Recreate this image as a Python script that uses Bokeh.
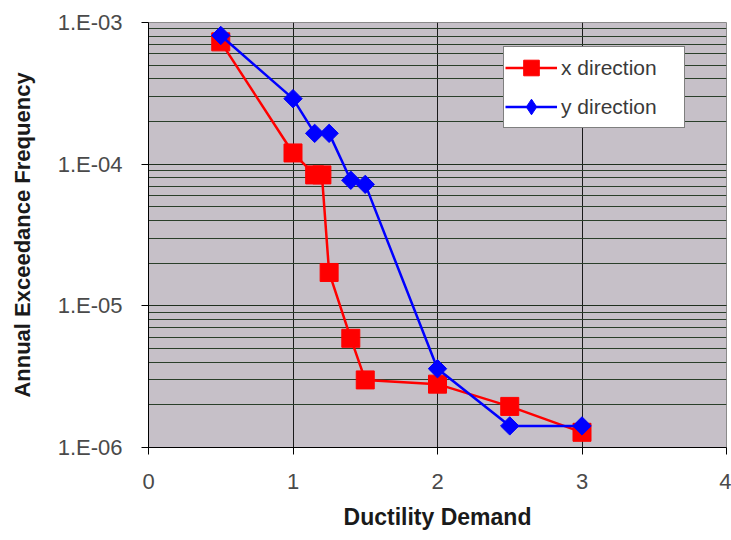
import math
from bokeh.plotting import figure
from bokeh.embed import file_html
from bokeh.resources import INLINE
from bokeh.models import FixedTicker, LogTicker, CustomJSTickFormatter, Legend

# Data
x_dir_x = [0.5, 1.0, 1.15, 1.2, 1.25, 1.4, 1.5, 2.0, 2.5, 3.0]
x_dir_y = [7.3e-4, 1.2e-4, 8.4e-5, 8.4e-5, 1.72e-5, 5.9e-6, 3.0e-6, 2.8e-6, 1.95e-6, 1.28e-6]
y_dir_x = [0.5, 1.0, 1.15, 1.25, 1.4, 1.5, 2.0, 2.5, 3.0]
y_dir_y = [8.1e-4, 2.9e-4, 1.65e-4, 1.65e-4, 7.7e-5, 7.2e-5, 3.6e-6, 1.42e-6, 1.42e-6]
x_ticks = [0, 1, 2, 3, 4]
y_ticks = [1e-6, 1e-5, 1e-4, 1e-3]

p = figure(width=731, height=540, output_backend="svg", toolbar_location=None,
           x_range=(0, 4), y_range=(1e-6, 1e-3), y_axis_type="log",
           min_border_left=148, min_border_right=5, min_border_top=22, min_border_bottom=93)

p.background_fill_color = "#c6c0c8"
p.border_fill_color = "white"
p.outline_line_color = "#8a8a8a"
p.outline_line_width = 1

p.xaxis.ticker = FixedTicker(ticks=x_ticks)
p.yaxis.ticker = LogTicker(desired_num_ticks=4, num_minor_ticks=10)
p.yaxis.formatter = CustomJSTickFormatter(code="""
var e = Math.round(Math.log10(tick));
var s = Math.abs(e); s = (s < 10 ? '0' : '') + s;
return '1.E' + (e < 0 ? '-' : '+') + s;
""")

for ax in (p.xaxis[0], p.yaxis[0]):
    ax.axis_line_color = "black"
    ax.axis_line_width = 1
    ax.major_tick_line_color = "black"
    ax.major_tick_out = 7
    ax.major_tick_in = 0
    ax.minor_tick_line_color = None
    ax.major_label_text_font = "Liberation Sans"
    ax.major_label_text_font_size = "22px"
    ax.major_label_text_color = "#4a4a4a"
    ax.axis_label_text_font = "Liberation Sans"
    ax.axis_label_text_font_style = "bold"
    ax.axis_label_text_color = "#1a1a1a"

p.xaxis.axis_label = "Ductility Demand"
p.yaxis.axis_label = "Annual Exceedance Frequency"
p.xaxis.axis_label_text_font_size = "23px"
p.yaxis.axis_label_text_font_size = "22px"
p.xaxis.major_label_standoff = 19
p.xaxis.axis_label_standoff = 12
p.yaxis.major_label_standoff = 19
p.yaxis.axis_label_standoff = 20

p.xgrid.ticker = FixedTicker(ticks=x_ticks)
p.xgrid.grid_line_color = "#1a1a1a"
p.xgrid.grid_line_width = 1
p.ygrid.grid_line_color = "#1f2f1f"
p.ygrid.grid_line_width = 1.2
p.ygrid.minor_grid_line_color = "#2a3f2a"
p.ygrid.minor_grid_line_width = 1

r1 = p.line(x_dir_x, x_dir_y, line_color="#ff0000", line_width=2.5)
s1 = p.scatter(x_dir_x, x_dir_y, marker="square", size=18, fill_color="#ff0000", line_color="#ff0000")
r2 = p.line(y_dir_x, y_dir_y, line_color="#0000ff", line_width=2.5)
# diamond glyph (used as legend swatch), covered by the wider rotated squares
s2_key = p.scatter(y_dir_x, y_dir_y, marker="diamond", size=16, fill_color="#0000ff", line_color="#0000ff")
s2 = p.scatter(y_dir_x, y_dir_y, marker="square", angle=math.pi / 4, size=13,
               fill_color="#0000ff", line_color="#0000ff")

legend = Legend(items=[("x direction", [r1, s1]), ("y direction", [r2, s2_key])],
                location=(355, 319))
legend.label_text_font = "Liberation Sans"
legend.label_text_font_size = "21px"
legend.label_text_color = "#3a3a3a"
legend.border_line_color = "black"
legend.border_line_width = 1
legend.background_fill_color = "white"
legend.background_fill_alpha = 1
legend.margin = 0
legend.padding = 1
legend.spacing = 0
legend.glyph_width = 52
legend.glyph_height = 39
legend.label_height = 39
legend.label_width = 122
legend.label_standoff = 4
p.add_layout(legend)

open("out.html", "w").write(file_html(p, INLINE))
